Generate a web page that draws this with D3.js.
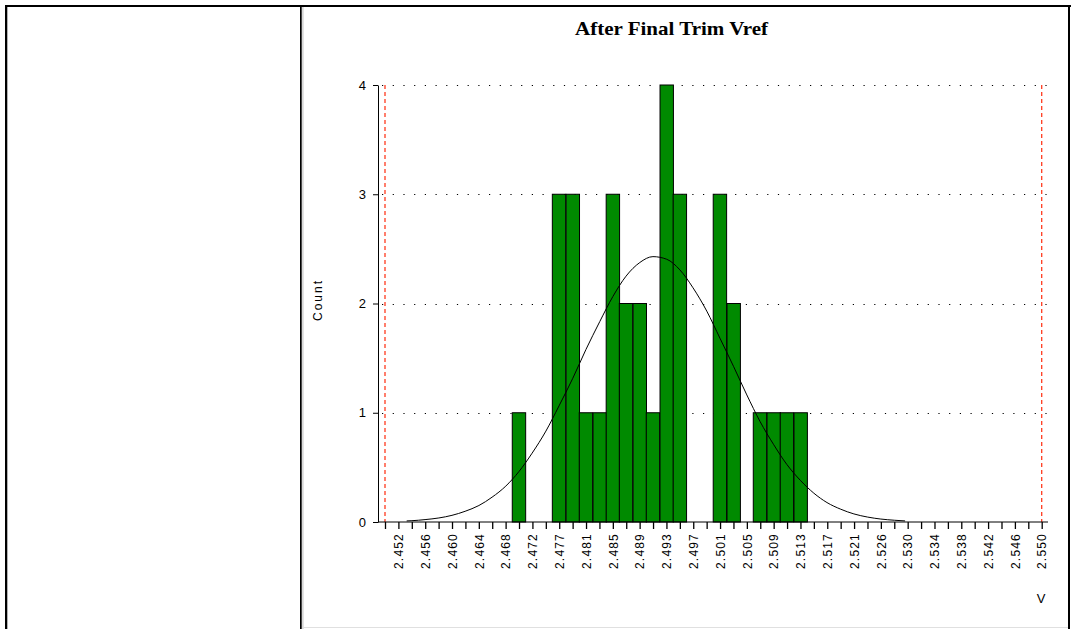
<!DOCTYPE html>
<html>
<head>
<meta charset="utf-8">
<script src="https://cdn.jsdelivr.net/npm/d3@7"></script>
<style>
  body { margin: 0; background: #fff; }
  svg { display: block; }
  .tick text { font-family: Arial, "Liberation Sans", sans-serif; }
</style>
</head>
<body>
<div id="chart"></div>
<script>
// spec limits (red dashed lines) and histogram bins
const lsl = 2.450;
const usl = 2.550;
const binWidth = 0.0020408;

const binCenters = [2.4704, 2.4765, 2.4786, 2.4806, 2.4827, 2.4847, 2.4867, 2.4888, 2.4908,
  2.4929, 2.4949, 2.5010, 2.5031, 2.5071, 2.5092, 2.5112, 2.5133];
const binCounts = [1, 3, 3, 1, 1, 3, 2, 2, 1, 4, 3, 3, 2, 1, 1, 1, 1];

// normal fit curve
const fitV = [2.4533, 2.4541, 2.4561, 2.4582, 2.4602, 2.4622, 2.4643, 2.4663, 2.4684, 2.4704,
  2.4724, 2.4745, 2.4765, 2.4786, 2.4806, 2.4827, 2.4847, 2.4867, 2.4888, 2.4908,
  2.4929, 2.4949, 2.4969, 2.4990, 2.5010, 2.5031, 2.5051, 2.5071, 2.5092, 2.5112,
  2.5133, 2.5153, 2.5173, 2.5194, 2.5214, 2.5235, 2.5255, 2.5276, 2.5292];
const fitCount = [0.010, 0.012, 0.022, 0.037, 0.061, 0.098, 0.151, 0.227, 0.329, 0.462,
  0.630, 0.832, 1.063, 1.316, 1.579, 1.834, 2.064, 2.250, 2.375, 2.429,
  2.405, 2.308, 2.144, 1.930, 1.683, 1.421, 1.163, 0.921, 0.707, 0.526,
  0.378, 0.264, 0.178, 0.117, 0.074, 0.045, 0.027, 0.016, 0.010];

const xTickLabels = ["2.452", "2.456", "2.460", "2.464", "2.468", "2.472", "2.477", "2.481",
  "2.485", "2.489", "2.493", "2.497", "2.501", "2.505", "2.509", "2.513", "2.517", "2.521",
  "2.526", "2.530", "2.534", "2.538", "2.542", "2.546", "2.550"];
const yTicks = [0, 1, 2, 3, 4];

const width = 1071, height = 629;

const svg = d3.select("#chart").append("svg")
  .attr("width", width)
  .attr("height", height);

// ---- table frame ----
svg.append("rect").attr("x", 5).attr("y", 5).attr("width", 1066).attr("height", 2).attr("fill", "#000");
svg.append("rect").attr("x", 5).attr("y", 5).attr("width", 2.3).attr("height", 624).attr("fill", "#000");
svg.append("rect").attr("x", 300).attr("y", 5).attr("width", 1.7).attr("height", 624).attr("fill", "#000");
svg.append("rect").attr("x", 302.3).attr("y", 7).attr("width", 1.2).attr("height", 622).attr("fill", "#c8c8c8");
svg.append("rect").attr("x", 1068).attr("y", 5).attr("width", 2).attr("height", 624).attr("fill", "#000");
svg.append("rect").attr("x", 303).attr("y", 627).attr("width", 765).attr("height", 1).attr("fill", "#e0e0e0");

// ---- scales ----
const x = d3.scaleLinear().domain([lsl, usl]).range([385, 1041.7]);
const y = d3.scaleLinear().domain([0, 4]).range([522, 85]);
const axisLeftX = 378, axisRightX = 1048;

// title
svg.append("text")
  .attr("x", 671.5)
  .attr("y", 35)
  .attr("text-anchor", "middle")
  .attr("textLength", 193)
  .attr("lengthAdjust", "spacingAndGlyphs")
  .style("font-family", "'Liberation Serif', 'Times New Roman', serif")
  .style("font-weight", "bold")
  .style("font-size", "19px")
  .text("After Final Trim Vref");

// dotted grid lines
svg.append("g").selectAll("line")
  .data(yTicks.filter(d => d > 0))
  .enter().append("line")
  .attr("x1", axisLeftX + 4).attr("x2", axisRightX)
  .attr("y1", d => Math.round(y(d)) + 0.5).attr("y2", d => Math.round(y(d)) + 0.5)
  .attr("stroke", "#000")
  .attr("stroke-width", 1.2)
  .attr("stroke-dasharray", "1.2,9.5");

// bars
svg.append("g").selectAll("rect")
  .data(binCenters)
  .enter().append("rect")
  .attr("x", d => x(d - binWidth / 2))
  .attr("width", d => x(d + binWidth / 2) - x(d - binWidth / 2))
  .attr("y", (d, i) => y(binCounts[i]))
  .attr("height", (d, i) => y(0) - y(binCounts[i]))
  .attr("fill", "#008a00")
  .attr("stroke", "#000")
  .attr("stroke-width", 1);

// spec limit lines
svg.append("g").selectAll("line")
  .data([lsl, usl])
  .enter().append("line")
  .attr("x1", d => x(d)).attr("x2", d => x(d))
  .attr("y1", y(4)).attr("y2", y(0))
  .attr("stroke", "#ff3b1f")
  .attr("stroke-width", 1.3)
  .attr("stroke-dasharray", "4,3");

// fit curve
const line = d3.line()
  .x((d, i) => x(fitV[i]))
  .y(d => y(d))
  .curve(d3.curveMonotoneX);

svg.append("path")
  .datum(fitCount)
  .attr("d", line)
  .attr("fill", "none")
  .attr("stroke", "#000")
  .attr("stroke-width", 1);

// ---- x axis ----
const xTicks = d3.range(50).map(i => lsl + i * (usl - lsl) / 49);
const xAxis = d3.axisBottom(x)
  .tickValues(xTicks)
  .tickSize(7)
  .tickFormat((d, i) => (i % 2 === 1 ? xTickLabels[(i - 1) / 2] : ""));

const xg = svg.append("g")
  .attr("transform", "translate(0," + y(0) + ")")
  .call(xAxis);
xg.select(".domain").remove();
xg.append("line")
  .attr("x1", axisLeftX).attr("x2", axisRightX)
  .attr("y1", 0).attr("y2", 0)
  .attr("stroke", "#000");
xg.selectAll(".tick line").attr("stroke-width", 1.3);
xg.selectAll(".tick text")
  .attr("transform", "rotate(-90)")
  .attr("x", -11)
  .attr("y", 0)
  .attr("dy", "0.35em")
  .style("text-anchor", "end")
  .style("font-size", "12px")
  .style("letter-spacing", "1.2px")
  .style("fill", "#000");

// ---- y axis ----
const yAxis = d3.axisLeft(y)
  .tickValues(yTicks)
  .tickSize(5)
  .tickSizeOuter(0)
  .tickFormat(d3.format("d"));

const yg = svg.append("g")
  .attr("transform", "translate(" + axisLeftX + ",0)")
  .call(yAxis);
yg.selectAll(".tick text")
  .attr("x", -12)
  .style("font-size", "13px")
  .style("fill", "#000");

// axis titles
svg.append("text")
  .attr("transform", "translate(322,300) rotate(-90)")
  .attr("text-anchor", "middle")
  .style("font-family", "Arial, 'Liberation Sans', sans-serif")
  .style("font-size", "12px")
  .style("letter-spacing", "2px")
  .text("Count");

svg.append("text")
  .attr("x", 1041)
  .attr("y", 603)
  .attr("text-anchor", "middle")
  .style("font-family", "Arial, 'Liberation Sans', sans-serif")
  .style("font-size", "13px")
  .text("V");
</script>
</body>
</html>
